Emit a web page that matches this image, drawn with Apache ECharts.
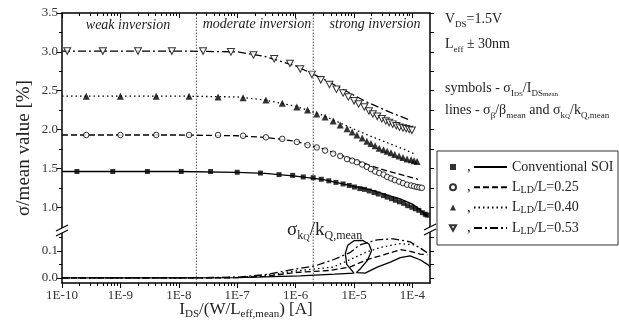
<!DOCTYPE html>
<html>
<head>
<meta charset="UTF-8">
<title>sigma / mean value</title>
<script src="https://cdn.jsdelivr.net/npm/echarts@6/dist/echarts.min.js"></script>
<style>html,body{margin:0;padding:0;background:#fff;}</style>
</head>
<body>
<div id="main" style="width:619px;height:325px;"></div>
<script>
// ---- axis ticks / labels ----
var xTickExps = [-10, -9, -8, -7, -6, -5, -4];      // decades, labelled 1E-10 ... 1E-4
var xMin = 1e-10, xMax = 2e-4;
var yUpperMin = 0.72, yUpperMax = 3.5;
var yLowerMin = -0.0185, yLowerMax = 0.18;
var yUpperTicks = [1.0, 1.5, 2.0, 2.5, 3.0, 3.5];
var yUpperMinor = [1.25, 1.75, 2.25, 2.75, 3.25];
var yLowerTicks = [0.0, 0.1];
var yLowerMinor = [0.05, 0.15];
var regionBounds = [2e-8, 2e-6];                     // weak / moderate / strong inversion

// ---- symbols: sigma_IDS / IDS_mean  [current (A), %] ----
var symConv = [[1.8e-10,1.46],[7.4e-10,1.46],[2.9e-9,1.46],[1.1e-8,1.46],[3.5e-8,1.46],[1.0e-7,1.45],
  [2.5e-7,1.44],[5.2e-7,1.42],[8.9e-7,1.41],[1.35e-6,1.39],[2.0e-6,1.38],[2.75e-6,1.36],[3.7e-6,1.34],
  [4.9e-6,1.32],[6.5e-6,1.30],[8.3e-6,1.28],[1.02e-5,1.26],[1.26e-5,1.24],[1.51e-5,1.23],[1.82e-5,1.21],
  [2.2e-5,1.19],[2.6e-5,1.17],[3.2e-5,1.15],[3.7e-5,1.13],[4.4e-5,1.11],[5.1e-5,1.09],[6.0e-5,1.07],
  [7.1e-5,1.05],[8.3e-5,1.02],[9.8e-5,1.00],[1.12e-4,0.98],[1.29e-4,0.96],[1.48e-4,0.93],[1.66e-4,0.91],[1.78e-4,0.90]];
var sym25 = [[2.6e-10,1.93],[1.0e-9,1.93],[4.1e-9,1.93],[1.5e-8,1.93],[4.7e-8,1.93],[1.26e-7,1.92],
  [3.1e-7,1.90],[5.9e-7,1.88],[1.05e-6,1.84],[1.6e-6,1.80],[2.3e-6,1.77],[3.2e-6,1.73],[4.4e-6,1.69],
  [5.8e-6,1.66],[7.6e-6,1.62],[9.3e-6,1.60],[1.12e-5,1.58],[1.38e-5,1.55],[1.66e-5,1.52],[1.95e-5,1.49],
  [2.3e-5,1.46],[2.7e-5,1.44],[3.2e-5,1.42],[3.7e-5,1.39],[4.3e-5,1.37],[5.0e-5,1.35],[5.9e-5,1.33],
  [6.9e-5,1.31],[8.1e-5,1.29],[9.5e-5,1.28],[1.07e-4,1.27],[1.2e-4,1.26],[1.32e-4,1.255],[1.45e-4,1.25]];
var sym40 = [[2.6e-10,2.43],[1.0e-9,2.43],[4.1e-9,2.43],[1.5e-8,2.43],[4.7e-8,2.42],[1.26e-7,2.41],
  [3.1e-7,2.38],[5.9e-7,2.34],[1.05e-6,2.29],[1.6e-6,2.25],[2.3e-6,2.20],[3.2e-6,2.16],[4.4e-6,2.11],
  [5.8e-6,2.06],[7.6e-6,2.01],[9.3e-6,1.97],[1.12e-5,1.93],[1.38e-5,1.89],[1.66e-5,1.85],[1.95e-5,1.82],
  [2.3e-5,1.79],[2.7e-5,1.76],[3.2e-5,1.74],[3.7e-5,1.72],[4.3e-5,1.70],[5.0e-5,1.68],[5.9e-5,1.66],
  [6.9e-5,1.64],[8.1e-5,1.62],[9.5e-5,1.61],[1.07e-4,1.60],[1.2e-4,1.59]];
var sym53 = [[1.23e-10,3.01],[5.0e-10,3.01],[2.0e-9,3.01],[7.6e-9,3.01],[2.6e-8,3.01],[7.8e-8,3.00],
  [1.9e-7,2.96],[4.3e-7,2.91],[8.0e-7,2.85],[1.2e-6,2.78],[1.9e-6,2.71],[2.7e-6,2.64],[3.8e-6,2.58],
  [5.0e-6,2.52],[6.5e-6,2.47],[8.0e-6,2.42],[1.0e-5,2.37],[1.2e-5,2.33],[1.5e-5,2.29],[1.8e-5,2.24],
  [2.1e-5,2.20],[2.5e-5,2.17],[3.0e-5,2.14],[3.5e-5,2.11],[4.0e-5,2.09],[4.6e-5,2.07],[5.3e-5,2.05],
  [6.0e-5,2.03],[6.9e-5,2.02],[7.8e-5,2.01],[8.8e-5,2.00],[9.8e-5,1.99]];

// ---- lines: sigma_beta / beta_mean ----
var lineConv = [[1e-10,1.46],[1e-8,1.46],[1e-7,1.45],[3e-7,1.435],[1e-6,1.40],[3e-6,1.355],[1e-5,1.27],
  [2e-5,1.22],[4e-5,1.15],[6e-5,1.11],[1e-4,1.04],[1.4e-4,0.96],[1.86e-4,0.87]];
var line25 = [[1e-10,1.93],[1e-8,1.93],[1e-7,1.92],[3e-7,1.90],[1e-6,1.85],[3e-6,1.75],[6e-6,1.67],
  [1e-5,1.61],[2e-5,1.53],[4e-5,1.46],[8e-5,1.40],[1.25e-4,1.36]];
var line40 = [[1e-10,2.43],[1e-8,2.43],[1e-7,2.42],[3e-7,2.38],[1e-6,2.30],[3e-6,2.18],[6e-6,2.08],
  [1.2e-5,1.98],[2e-5,1.91],[4e-5,1.82],[7e-5,1.75],[1.05e-4,1.69]];
var line53 = [[1e-10,3.01],[1e-8,3.01],[1e-7,3.00],[3e-7,2.94],[1e-6,2.82],[3e-6,2.65],[6e-6,2.53],
  [1.7e-5,2.35],[4.2e-5,2.22],[8.5e-5,2.13]];

// ---- lines: sigma_kQ / kQ_mean (lower panel) ----
var kqConv = [[1e-10,0],[1e-8,0],[1e-7,0.001],[1.2e-6,0.008],[4.7e-6,0.014],[1.0e-5,0.018],
  [7.5e-6,0.05],[7.1e-6,0.09],[7.8e-6,0.12],[1.0e-5,0.137],[1.4e-5,0.138],[1.8e-5,0.125],[2.0e-5,0.10],
  [1.7e-5,0.065],[1.3e-5,0.035],[1.1e-5,0.02],[1.55e-5,0.018],[2.5e-5,0.04],[4.2e-5,0.058],
  [6.2e-5,0.075],[9.1e-5,0.081],[1.35e-4,0.067],[1.86e-4,0.048],[2.0e-4,0.04]];
var kq25 = [[1e-10,0],[1e-8,0],[1e-7,0.001],[3e-7,0.006],[1e-6,0.02],[4e-6,0.028],[8.5e-6,0.04],
  [1.66e-5,0.067],[3.2e-5,0.085],[6.2e-5,0.104],[9.1e-5,0.098],[1.35e-4,0.088],[1.8e-4,0.085]];
var kq40 = [[1e-10,0],[1e-8,0],[1e-7,0.002],[3e-7,0.009],[1e-6,0.026],[4.4e-6,0.04],[8.5e-6,0.067],
  [1.66e-5,0.096],[3.2e-5,0.115],[6.2e-5,0.126],[1.05e-4,0.122],[1.55e-4,0.104]];
var kq53 = [[1e-10,0],[1e-8,0],[1e-7,0.003],[3e-7,0.012],[1e-6,0.033],[2.2e-6,0.045],[4.4e-6,0.067],
  [8.5e-6,0.093],[1.26e-5,0.122],[2.5e-5,0.14],[4.7e-5,0.144],[9.1e-5,0.133],[1.35e-4,0.11],[1.78e-4,0.093]];

var names = ['Conventional SOI', 'LLD/L=0.25', 'LLD/L=0.40', 'LLD/L=0.53'];
var legendText = {
  'Conventional SOI': 'Conventional SOI',
  'LLD/L=0.25': 'L{s|LD}/L=0.25',
  'LLD/L=0.40': 'L{s|LD}/L=0.40',
  'LLD/L=0.53': 'L{s|LD}/L=0.53'
};

var SERIF = 'Liberation Serif';
var dashes = ['solid', [6, 3], [1.5, 3], [8, 3, 2, 3]];
var triDown = 'path://M0,0L10,0L5,9Z';

var chart = echarts.init(document.getElementById('main'));

// log10 of the x range, for the tick axes laid over the (hidden) log axes
var xMinExp = Math.log10(xMin), xMaxExp = Math.log10(xMax);
var xMinor = [];
xTickExps.forEach(function (n) {
  for (var k = 2; k <= 9; k++) {
    var v = n + Math.log10(k);
    if (v < xMaxExp - 1e-6) xMinor.push(v);
  }
});

function rich(main, sub, subsub) {
  return {
    s: {fontFamily: SERIF, fontSize: sub, verticalAlign: 'bottom', lineHeight: 8},
    ss: {fontFamily: SERIF, fontSize: subsub, verticalAlign: 'bottom', lineHeight: 2},
    b: {fontFamily: SERIF, fontSize: main}
  };
}

function tickX(grid, pos, ticks, len, inside, line, labels) {
  return {
    type: 'value', gridIndex: grid, position: pos, min: xMinExp, max: xMaxExp,
    axisLine: {show: line, onZero: false, lineStyle: {color: '#000', width: 1.5}},
    axisTick: {show: true, inside: inside, length: len, customValues: ticks,
               lineStyle: {color: '#000', width: 1}},
    axisLabel: labels ? {show: true, customValues: xTickExps, margin: 6,
                         color: '#333', fontFamily: SERIF, fontSize: 13,
                         formatter: function (v) { return '1E' + Math.round(v); }}
                      : {show: false},
    splitLine: {show: false}
  };
}

function tickY(grid, pos, min, max, ticks, len, line, labels) {
  return {
    type: 'value', gridIndex: grid, position: pos, min: min, max: max,
    axisLine: {show: line, onZero: false, lineStyle: {color: '#000', width: 1.5}},
    axisTick: {show: true, length: len, customValues: ticks, lineStyle: {color: '#000', width: 1}},
    axisLabel: labels ? {show: true, customValues: labels, margin: 4, color: '#333',
                         fontFamily: SERIF, fontSize: 13,
                         formatter: function (v) { return v.toFixed(1); }}
                      : {show: false},
    splitLine: {show: false}
  };
}

var xAxes = [
  {type: 'log', gridIndex: 0, min: xMin, max: xMax, show: false},
  {type: 'log', gridIndex: 1, min: xMin, max: xMax, show: false},
  tickX(0, 'top', xTickExps, 5, true, true, false),
  tickX(0, 'top', xMinor, 3, true, false, false),
  tickX(1, 'bottom', xTickExps, 5, false, true, true),
  tickX(1, 'bottom', xMinor, 3, false, false, false)
];
xAxes[4].name = 'I{s|DS}/(W/L{s|eff,mean}) [A]';
xAxes[4].nameLocation = 'middle';
xAxes[4].nameGap = 17;
xAxes[4].nameMoveOverlap = false;
xAxes[4].nameTextStyle = {fontFamily: SERIF, fontSize: 17, color: '#222', lineHeight: 20,
                          rich: rich(17, 11, 8)};

var upperRight = [1.0, 1.25, 1.5, 1.75, 2.0, 2.25, 2.5, 2.75, 3.0, 3.25, 3.5];
var lowerRight = [0, 0.05, 0.1, 0.15];
var yAxes = [
  tickY(0, 'left', yUpperMin, yUpperMax, yUpperTicks, 5, true, yUpperTicks),
  tickY(0, 'left', yUpperMin, yUpperMax, yUpperMinor, 3, false, null),
  tickY(0, 'right', yUpperMin, yUpperMax, upperRight, 4, true, null),
  tickY(1, 'left', yLowerMin, yLowerMax, yLowerTicks, 5, true, yLowerTicks),
  tickY(1, 'left', yLowerMin, yLowerMax, yLowerMinor, 3, false, null),
  tickY(1, 'right', yLowerMin, yLowerMax, lowerRight, 4, true, null)
];

function line(name, data, i, grid) {
  return {
    name: name, type: 'line', data: data, xAxisIndex: grid, yAxisIndex: grid ? 3 : 0,
    symbol: 'none', z: 2, itemStyle: {color: '#000'},
    lineStyle: {color: '#000', width: 1.3, type: dashes[i]}
  };
}

function sym(name, data, symbol, filled, size) {
  return {
    name: name, type: 'scatter', data: data, xAxisIndex: 0, yAxisIndex: 0, z: 3,
    symbol: symbol, symbolSize: size,
    itemStyle: {color: filled ? '#000' : '#fff', borderColor: '#000', borderWidth: filled ? 0 : 1}
  };
}

// vertical dotted region boundaries, drawn in both panels
function boundary(b, grid) {
  return {
    type: 'line', xAxisIndex: grid, yAxisIndex: grid ? 3 : 0, symbol: 'none', z: 1, silent: true,
    data: grid ? [[b, yLowerMin], [b, yLowerMax]] : [[b, yUpperMin], [b, yUpperMax]],
    lineStyle: {color: '#555', width: 1, type: [1.5, 1.5]}
  };
}

var symNames = names.map(function (n) { return 'symbols ' + n; });

var series = [
  line(names[0], lineConv, 0, 0),
  line(names[1], line25, 1, 0),
  line(names[2], line40, 2, 0),
  line(names[3], line53, 3, 0),
  sym(symNames[0], symConv, 'rect', true, 5),
  sym(symNames[1], sym25, 'circle', false, 5.5),
  sym(symNames[2], sym40, 'triangle', true, 7),
  sym(symNames[3], sym53, triDown, false, [7, 6.5]),
  line(names[0], kqConv, 0, 1),
  line(names[1], kq25, 1, 1),
  line(names[2], kq40, 2, 1),
  line(names[3], kq53, 3, 1)
];
regionBounds.forEach(function (b) {
  series.push(boundary(b, 0), boundary(b, 1));
});

function txt(x, y, text, size, opts) {
  opts = opts || {};
  return {
    type: 'text', x: x, y: y, z: 50, rotation: opts.rotation || 0,
    style: {
      text: text, fontFamily: SERIF, fontSize: size, fontStyle: opts.italic ? 'italic' : 'normal',
      fill: '#222', align: opts.align || 'left', verticalAlign: 'middle',
      lineHeight: opts.lineHeight || size + 4, rich: rich(size, opts.sub || 9, opts.subsub || 7)
    }
  };
}

function brk(cx, cy) {
  return [
    {type: 'polygon', z: 60, shape: {points: [[cx - 6, cy + 1], [cx + 6, cy - 5], [cx + 6, cy], [cx - 6, cy + 6]]},
     style: {fill: '#fff'}},
    {type: 'line', z: 61, shape: {x1: cx - 6, y1: cy + 1, x2: cx + 6, y2: cy - 5}, style: {stroke: '#000', lineWidth: 1.2}},
    {type: 'line', z: 61, shape: {x1: cx - 6, y1: cy + 6, x2: cx + 6, y2: cy}, style: {stroke: '#000', lineWidth: 1.2}}
  ];
}

var graphics = [
  txt(24, 148, 'σ/mean value [%]', 19, {align: 'center', rotation: Math.PI / 2}),
  txt(128, 25, 'weak inversion', 14, {align: 'center', italic: true}),
  txt(257, 24, 'moderate inversion', 14, {align: 'center', italic: true}),
  txt(375, 24, 'strong inversion', 14, {align: 'center', italic: true}),
  txt(445, 19, 'V{s|DS}=1.5V', 14, {lineHeight: 20}),
  txt(445, 44, 'L{s|eff} ± 30nm', 14, {lineHeight: 20}),
  txt(445, 88, 'symbols - σ{s|I}{ss|DS}/I{s|DS}{ss|mean}', 14, {lineHeight: 20}),
  txt(445, 110, 'lines - σ{s|β}/β{s|mean} and σ{s|k}{ss|Q}/k{s|Q,mean}', 14, {lineHeight: 20}),
  txt(287, 230, 'σ{s|k}{ss|Q}/k{s|Q,mean}', 19, {lineHeight: 24, sub: 12, subsub: 9}),
  {type: 'rect', z: 40, shape: {x: 437, y: 151, width: 181, height: 94},
   style: {fill: 'none', stroke: '#333', lineWidth: 1}}
].concat(brk(62, 230), brk(430, 229));

var option = {
  animation: false,
  textStyle: {fontFamily: SERIF},
  grid: [
    {left: 62, top: 13, width: 368, height: 216},
    {left: 62, top: 229, width: 368, height: 54}
  ],
  xAxis: xAxes,
  yAxis: yAxes,
  legend: [
    {
      data: symNames, orient: 'vertical', left: 449, top: 159, itemGap: 4.3, padding: 0,
      itemWidth: 6, itemHeight: 6, selectedMode: false,
      formatter: function () { return ','; },
      textStyle: {fontFamily: SERIF, fontSize: 15, lineHeight: 16, color: '#222', padding: [0, 0, 0, 6]}
    },
    {
      data: names, orient: 'vertical', left: 473, top: 159, itemGap: 4.3, padding: 0,
      itemWidth: 33, itemHeight: 10, selectedMode: false,
      itemStyle: {opacity: 0},
      formatter: function (n) { return legendText[n]; },
      textStyle: {fontFamily: SERIF, fontSize: 14, lineHeight: 16, color: '#222',
                  rich: {s: {fontFamily: SERIF, fontSize: 10, verticalAlign: 'bottom', lineHeight: 6}}}
    }
  ],
  graphic: graphics,
  series: series
};

chart.setOption(option);
</script>
</body>
</html>
